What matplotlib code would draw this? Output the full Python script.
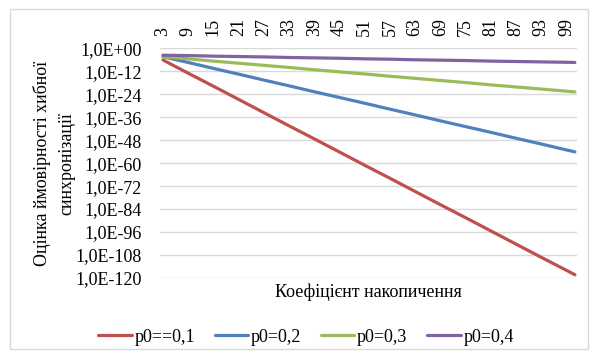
import matplotlib
matplotlib.use("Agg")
import matplotlib.pyplot as plt
from matplotlib.ticker import FixedLocator, FuncFormatter, NullLocator
from matplotlib.patches import Rectangle
import numpy as np

# Data (log10 of the probability)
k = [3, 9, 15, 21, 27, 33, 39, 45, 51, 57, 63, 69, 75, 81, 87, 93, 99, 101]
log_p01 = [-6.1, -13.0, -19.8, -26.7, -33.6, -40.5, -47.3, -54.2, -61.1,
           -67.9, -74.8, -81.7, -88.5, -95.4, -102.3, -109.2, -116.0, -118.3]
log_p02 = [-4.4, -7.4, -10.5, -13.5, -16.6, -19.6, -22.7, -25.7, -28.7,
           -31.8, -34.8, -37.9, -40.9, -43.9, -47.0, -50.0, -53.1, -54.1]
log_p03 = [-4.4, -5.5, -6.7, -7.8, -8.9, -10.0, -11.2, -12.3, -13.4,
           -14.6, -15.7, -16.8, -17.9, -19.1, -20.2, -21.3, -22.4, -22.8]
log_p04 = [-3.6, -3.8, -4.1, -4.3, -4.5, -4.8, -5.0, -5.2, -5.5,
           -5.7, -6.0, -6.2, -6.4, -6.7, -6.9, -7.1, -7.3, -7.4]
series_labels = ["p0==0,1", "p0=0,2", "p0=0,3", "p0=0,4"]
series_colors = ["#C0504D", "#4F81BD", "#9BBB59", "#8064A2"]
x_ticks = [3, 9, 15, 21, 27, 33, 39, 45, 51, 57, 63, 69, 75, 81, 87, 93, 99]
y_exps = [0, -12, -24, -36, -48, -60, -72, -84, -96, -108, -120]

plt.rcParams['font.family'] = ['Liberation Serif', 'DejaVu Serif']
FS = 13

W, H = 591, 352
fig = plt.figure(figsize=(W / 100, H / 100), dpi=100)
ax = fig.add_axes([160 / W, 1 - 278 / H, (577 - 160) / W, (278 - 48.3) / H])

series = [log_p01, log_p02, log_p03, log_p04]
for vals, lab, col in zip(series, series_labels, series_colors):
    ax.plot(k, 10.0 ** np.array(vals), color=col, lw=2.3, label=lab,
            solid_capstyle='round', zorder=3)

ax.set_yscale('log')
ax.set_ylim(10.0 ** -120, 1.0)
ax.set_xlim(2.3, 101.5)
ax.yaxis.set_major_locator(FixedLocator([10.0 ** e for e in y_exps]))
ax.yaxis.set_minor_locator(NullLocator())


def fmt(v, pos):
    e = int(round(np.log10(v)))
    s = "+" if e >= 0 else "-"
    return "1,0E%s%02d" % (s, abs(e))


ax.yaxis.set_major_formatter(FuncFormatter(fmt))
ax.grid(axis='y', color='#d9d9d9', lw=1.0, zorder=0)
for sp in ax.spines.values():
    sp.set_visible(False)

ax.xaxis.tick_top()
ax.set_xticks(x_ticks)
ax.set_xticklabels([str(v) for v in x_ticks], rotation=90, fontsize=FS)
ax.tick_params(axis='x', length=0, pad=9)
ax.tick_params(axis='y', length=0, pad=13, labelsize=FS)

fig.text(368 / W, 1 - 292 / H, "Коефіцієнт накопичення", ha='center',
         va='center', fontsize=FS)
fig.text(54 / W, 1 - 163 / H, "Оцінка ймовірності хибної\nсинхронізації",
         ha='center', va='center', rotation=90, fontsize=FS, linespacing=1.55,
         multialignment='center')

fig.legend(loc='center', bbox_to_anchor=(306 / W, 1 - 337 / H), ncol=4,
           frameon=False, fontsize=FS, handlelength=1.85, handletextpad=0.15,
           columnspacing=1.1)

fig.patches.append(Rectangle((10 / W, 3 / H), (588 - 10) / W, (343 - 3) / H,
                             transform=fig.transFigure, fill=False,
                             edgecolor='#d9d9d9', lw=1.0))

fig.savefig("out.png", dpi=100)
